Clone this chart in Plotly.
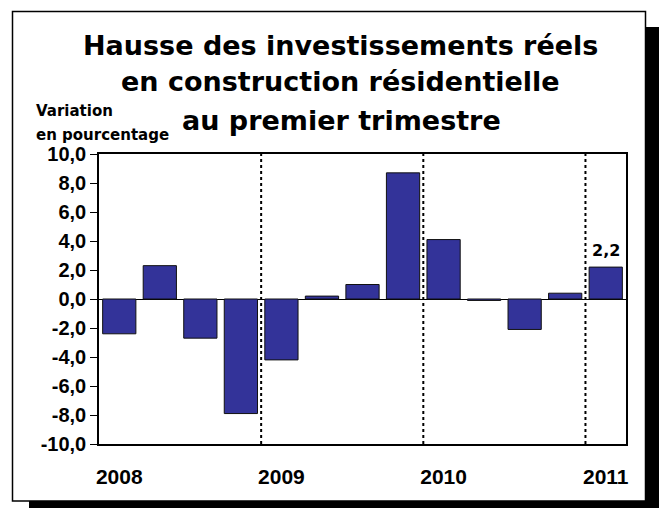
import plotly.graph_objects as go

# quarterly growth, 2008Q1 .. 2011Q1
quarters = list(range(13))
values = [-2.4, 2.3, -2.7, -7.9, -4.2, 0.2, 1.0, 8.7, 4.1, -0.1, -2.1, 0.4, 2.2]
year_ticks = [0, 4, 8, 12]
year_labels = ["2008", "2009", "2010", "2011"]
y_ticks = [-10, -8, -6, -4, -2, 0, 2, 4, 6, 8, 10]
y_labels = ["-10,0", "-8,0", "-6,0", "-4,0", "-2,0", "0,0", "2,0", "4,0", "6,0", "8,0", "10,0"]
year_breaks = [3.5, 7.5, 11.5]

W, H = 659, 508
L, R, T, B = 99, 626, 154, 444  # plot area in pixels


def px_x(p):
    return (p - L) / (R - L)


def px_y(p):
    return (B - p) / (B - T)


fig = go.Figure(
    go.Bar(
        x=quarters,
        y=values,
        width=0.82,
        marker=dict(color="#333399", line=dict(color="#111111", width=1)),
        hoverinfo="y",
    )
)

shapes = [
    # drop shadow + frame
    dict(type="rect", xref="paper", yref="paper", x0=px_x(29), x1=px_x(W),
         y0=px_y(H), y1=px_y(27), fillcolor="black", line_width=0, layer="below"),
    dict(type="rect", xref="paper", yref="paper", x0=px_x(12.5), x1=px_x(645.5),
         y0=px_y(501), y1=px_y(11.5), fillcolor="white",
         line=dict(color="black", width=1.5), layer="below"),
]
for xb in year_breaks:
    shapes.append(dict(type="line", xref="x", yref="paper", x0=xb, x1=xb, y0=0, y1=1,
                       line=dict(color="black", width=2, dash="dot")))

title_font = dict(family="DejaVu Sans", size=27, color="black")
annotations = [
    dict(text="<b>Hausse des investissements réels</b>", x=px_x(340), y=px_y(45)),
    dict(text="<b>en construction résidentielle</b>", x=px_x(340), y=px_y(82)),
    dict(text="<b>au premier trimestre</b>", x=px_x(341), y=px_y(120)),
]
for a in annotations:
    a.update(xref="paper", yref="paper", showarrow=False, font=title_font,
             xanchor="center", yanchor="middle")

small_font = dict(family="DejaVu Sans", size=15, color="black")
annotations += [
    dict(text="<b>Variation</b>", x=px_x(34), y=px_y(111), xref="paper", yref="paper",
         showarrow=False, xanchor="left", yanchor="middle", font=small_font),
    dict(text="<b>en pourcentage</b>", x=px_x(34), y=px_y(135), xref="paper", yref="paper",
         showarrow=False, xanchor="left", yanchor="middle", font=small_font),
    dict(text="<b>2,2</b>", x=quarters[-1], y=values[-1], xref="x", yref="y",
         showarrow=False, xanchor="center", yanchor="bottom", yshift=5,
         font=dict(family="DejaVu Sans", size=16, color="black")),
]

fig.update_layout(
    width=W,
    height=H,
    margin=dict(l=L, r=W - R, t=T, b=H - B),
    paper_bgcolor="white",
    plot_bgcolor="white",
    showlegend=False,
    bargap=0.18,
    shapes=shapes,
    annotations=annotations,
)

fig.update_xaxes(
    range=[-0.5, 12.5],
    tickvals=year_ticks,
    ticktext=[f"<b>{t}</b>" for t in year_labels],
    ticks="",
    ticklabelstandoff=13,
    tickfont=dict(family="Liberation Sans", size=21, color="black"),
    showline=True,
    mirror=True,
    linecolor="black",
    linewidth=1.5,
    showgrid=False,
    zeroline=False,
)

fig.update_yaxes(
    range=[-10, 10],
    tickvals=y_ticks,
    ticktext=[f"<b>{t}</b>" for t in y_labels],
    ticks="outside",
    ticklen=7,
    tickcolor="black",
    tickfont=dict(family="Liberation Sans", size=20, color="black"),
    showline=True,
    mirror=True,
    linecolor="black",
    linewidth=1.5,
    showgrid=False,
    zeroline=True,
    zerolinecolor="black",
    zerolinewidth=1,
)

# page body has a default margin; drop it so the figure sits at the window corner
fig.write_html(
    "out.html",
    config={"displayModeBar": False},
    post_script="document.body.style.margin='0px';",
)
